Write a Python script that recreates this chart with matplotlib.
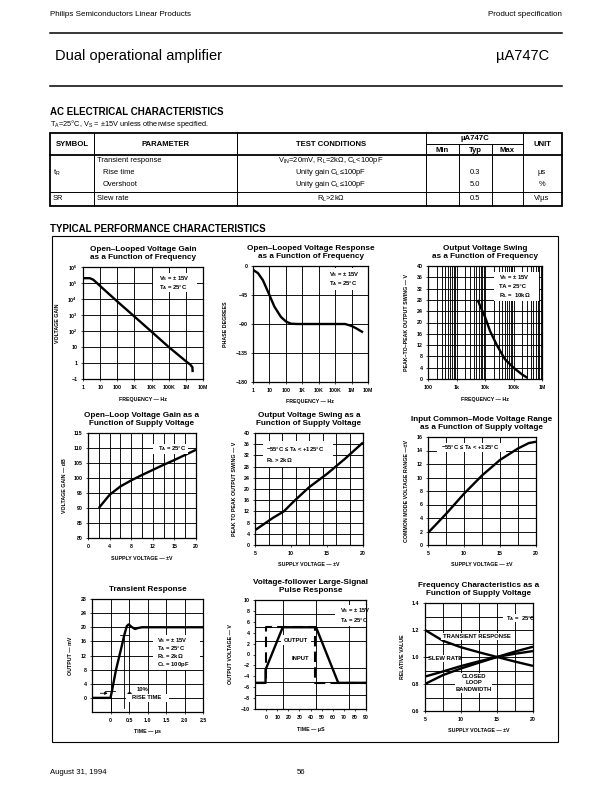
import matplotlib
matplotlib.use("Agg")
import matplotlib.pyplot as plt
from matplotlib.lines import Line2D
from matplotlib.patches import Rectangle
from matplotlib.ticker import FixedLocator, LogLocator, NullFormatter

plt.rcParams["font.family"] = ["Liberation Sans", "DejaVu Sans"]
plt.rcParams["mathtext.fontset"] = "custom"
plt.rcParams["mathtext.rm"] = "Liberation Sans"
plt.rcParams["mathtext.it"] = "Liberation Sans:italic"
plt.rcParams["mathtext.bf"] = "Liberation Sans:bold"
plt.rcParams["mathtext.default"] = "regular"

# ---- chart data ----
freq_ticks = [1, 10, 100, 1e3, 1e4, 1e5, 1e6, 1e7]
freq_labels = ["1", "10", "100", "1K", "10K", "100K", "1M", "10M"]

gain_freq_hz = [1, 2.5, 4, 10, 100, 1e3, 1e4, 1e5, 1e6, 1.8e6, 2.4e6, 2.5e6]
gain_vv = [2e5, 2e5, 1.6e5, 6.5e4, 7e3, 8e2, 90, 10, 1.3, 0.8, 0.55, 0.27]
gain_yticks = [0.1, 1, 10, 1e2, 1e3, 1e4, 1e5, 1e6]
gain_ylabels = ["\u22121", "1", "10", "10$^2$", "10$^3$", "10$^4$", "10$^5$", "10$^6$"]

phase_freq_hz = [1, 2, 4, 10, 20, 50, 100, 200, 500, 1e4, 1e5, 4e5, 1e6, 2e6, 5e6]
phase_deg = [-6, -11, -22, -45, -63, -79, -86, -89.5, -90, -90, -90, -90, -93, -97, -103]
phase_yticks = [0, -45, -90, -135, -180]

swing_freq_hz = [5.5e3, 7e3, 1e4, 1.5e4, 2.6e4, 5e4, 1e5, 2e5, 3.1e5]
swing_vpp = [28, 25.5, 22, 17, 12, 7, 4, 1.6, 0.4]
swing_xticks = [100, 1e3, 1e4, 1e5, 1e6]
swing_xlabels = ["100", "1k", "10k", "100k", "1M"]

gsup_volts = [2, 4, 6, 8, 10, 12, 14, 16, 18, 20]
gsup_db = [90, 94.4, 97.2, 99.2, 101, 102.7, 104.4, 106, 107.7, 109.4]
gsup_xticks = [0, 4, 8, 12, 16, 20]
gsup_xlabels = ["0", "4", "8", "12", "15", "20"]

ssup_volts = [5, 7.5, 9, 10.4, 12.5, 15, 17.5, 20]
ssup_vpp = [5.3, 9.7, 12, 15.6, 20.6, 25.4, 30.8, 36.6]
ssup_grid = [6.875, 8.75, 10.625, 12.5, 14.375, 16.25, 18.125]

cm_volts = [5, 7.5, 10, 12.5, 15, 17.5, 19, 20]
cm_range = [1.8, 4.6, 7.6, 10.3, 12.6, 14.3, 15.1, 15.3]

tr_time_us = [-0.5, 0.0, 0.04, 0.15, 0.3, 0.37, 0.44, 0.49, 0.57, 0.66, 0.75, 0.85, 2.5]
tr_out_mv = [0, 0, 2, 8, 14.5, 17.7, 20.3, 20.8, 20.1, 19.5, 19.8, 20, 20]
tr_xticks = [0, 0.5, 1.0, 1.5, 2.0, 2.5]
tr_xlabels = ["0", "0.5", "1.0", "1.5", "2.0", "2.5"]

pulse_in_t = [-10, -0.5, -0.5, 44.5, 44.5, 90]
pulse_in_v = [-5.2, -5.2, 5, 5, -5.2, -5.2]
pulse_out_t = [-10, -0.5, -0.5, 15, 45, 65, 90]
pulse_out_v = [-5.2, -5.2, -2.8, 5, 5, -5.2, -5.2]
pulse_xgrid = [0, 15, 30, 45, 60, 75]
pulse_ygrid = [-7.5, -5, -2.5, 0, 2.5, 5, 7.5]

fc_volts = [5, 7.5, 10, 12.5, 15, 17.5, 20]
fc_transient = [1.2, 1.12, 1.072, 1.035, 1.0, 0.966, 0.934]
fc_slew = [0.855, 0.893, 0.933, 0.968, 1.0, 1.024, 1.044]
fc_bandwidth = [0.8, 0.866, 0.915, 0.958, 1.0, 1.04, 1.076]

W, H = 612, 792
fig = plt.figure(figsize=(W / 100, H / 100), dpi=100)


def fx(x):
    return x / W


def fy(y):
    return 1 - y / H


def hline(x0, x1, y, lw=0.7):
    fig.add_artist(Line2D([fx(x0), fx(x1)], [fy(y), fy(y)], color="black", lw=lw))


def vline(x, y0, y1, lw=0.7):
    fig.add_artist(Line2D([fx(x), fx(x)], [fy(y0), fy(y1)], color="black", lw=lw))


def put(x, y, s, size=5.4, ha="left", weight="normal"):
    fig.text(fx(x), fy(y), s, fontsize=size, ha=ha, va="center", fontweight=weight)


# ---- page header ----
put(50, 14, "Philips Semiconductors Linear Products", size=5.8)
put(562, 14, "Product specification", size=5.8, ha="right")
hline(50, 562, 33, lw=1.1)
put(55, 56, "Dual operational amplifier", size=10.5)
put(549, 56, "\u00b5A747C", size=10.5, ha="right")
hline(50, 562, 86, lw=1.1)

# ---- AC table ----
put(50, 112, "AC ELECTRICAL CHARACTERISTICS", size=7, weight="bold")
put(50, 124, "T$_A$=25\u00b0C, V$_S$ = \u00b115V unless otherwise specified.", size=5.3)

cols = [50, 94, 237, 426, 459, 492, 523, 562]
t_top, t_mid, t_head, t_sep, t_bot = 133, 144, 155, 192, 206
fig.add_artist(Rectangle((fx(50), fy(t_bot)), fx(562) - fx(50), fy(t_top) - fy(t_bot),
                         fill=False, lw=1.3, edgecolor="black"))
hline(50, 562, t_head, lw=1.3)
hline(50, 562, t_sep, lw=0.7)
hline(cols[3], cols[6], t_mid, lw=0.7)
for i, c in enumerate(cols[1:-1], start=1):
    if i in (4, 5):
        vline(c, t_mid, t_bot)
    else:
        vline(c, t_top, t_bot)
HB = 5.6
put(72, 144, "SYMBOL", size=HB, ha="center", weight="bold")
put(165, 144, "PARAMETER", size=HB, ha="center", weight="bold")
put(331, 144, "TEST CONDITIONS", size=HB, ha="center", weight="bold")
put(475, 138, "\u00b5A747C", size=HB, ha="center", weight="bold")
put(442, 150, "Min", size=HB, ha="center", weight="bold")
put(475, 150, "Typ", size=HB, ha="center", weight="bold")
put(507, 150, "Max", size=HB, ha="center", weight="bold")
put(542, 144, "UNIT", size=HB, ha="center", weight="bold")

put(97, 161, "Transient response")
put(331, 161, "V$_{IN}$=20mV, R$_L$=2k\u03a9, C$_L$<100pF", ha="center")
put(53, 173, "t$_R$")
put(103, 173, "Rise time")
put(331, 173, "Unity gain C$_L$\u2264100pF", ha="center")
put(475, 173, "0.3", ha="center")
put(542, 173, "\u00b5s", ha="center")
put(103, 185, "Overshoot")
put(331, 185, "Unity gain C$_L$\u2264100pF", ha="center")
put(475, 185, "5.0", ha="center")
put(542, 185, "%", ha="center")
put(53, 199, "SR")
put(97, 199, "Slew rate")
put(331, 199, "R$_L$>2k\u03a9", ha="center")
put(475, 199, "0.5", ha="center")
put(542, 199, "V/\u00b5s", ha="center")

# ---- performance characteristics frame ----
put(50, 229, "TYPICAL PERFORMANCE CHARACTERISTICS", size=7, weight="bold")
fig.add_artist(Rectangle((fx(52), fy(742)), fx(558) - fx(52), fy(236) - fy(742),
                         fill=False, lw=0.8, edgecolor="black"))

TICK = 3.8


def chart(box, title, xlabel, ylabel):
    left, right, top, bottom = box
    ax = fig.add_axes([fx(left), fy(bottom), (right - left) / W, (bottom - top) / H])
    ax.set_axisbelow(True)
    for sp in ax.spines.values():
        sp.set_linewidth(0.9)
    ax.tick_params(which="major", length=1.5, width=0.5, labelsize=TICK, pad=2.5)
    ax.tick_params(which="minor", length=0)
    ax.grid(True, which="both", color="black", lw=0.65)
    ax.set_title(title, fontsize=5.9, fontweight="bold", pad=5.5, linespacing=1.2)
    ax.set_xlabel(xlabel, fontsize=TICK, fontweight="bold", labelpad=5)
    ax.set_ylabel(ylabel, fontsize=TICK, fontweight="bold", labelpad=5)
    return ax


def bold_ticks(ax):
    for lab in ax.get_xticklabels() + ax.get_yticklabels():
        lab.set_fontweight("bold")


def white_box(ax, x0, y0, x1, y1):
    ax.add_patch(Rectangle((x0, y0), x1 - x0, y1 - y0, transform=ax.transAxes,
                           facecolor="white", edgecolor="none", zorder=3))


def note(ax, x, y, s, ha="left", size=4.2):
    ax.text(x, y, s, transform=ax.transAxes, fontsize=size, ha=ha, va="center",
            fontweight="bold", zorder=4)


CURVE = dict(color="black", lw=1.7, solid_capstyle="butt")

# 1. open-loop gain vs frequency
ax = chart((83, 203, 267, 379), "Open\u2013Looped Voltage Gain\nas a Function of Frequency",
           "FREQUENCY \u2014 Hz", "VOLTAGE GAIN")
ax.set_xscale("log")
ax.set_yscale("log")
ax.plot(gain_freq_hz, gain_vv, **CURVE)
ax.set_xlim(1, 1e7)
ax.set_ylim(0.1, 1e6)
ax.xaxis.set_major_locator(FixedLocator(freq_ticks))
ax.set_xticklabels(freq_labels)
ax.xaxis.set_minor_locator(FixedLocator([]))
ax.yaxis.set_major_locator(FixedLocator(gain_yticks))
ax.set_yticklabels(gain_ylabels)
ax.yaxis.set_minor_locator(FixedLocator([]))
white_box(ax, 0.58, 0.78, 0.95, 0.95)
note(ax, 0.63, 0.9, "V$_S$ = \u00b1 15V")
note(ax, 0.63, 0.82, "T$_A$ = 25\u00b0C")
bold_ticks(ax)

# 2. open-loop phase vs frequency
ax = chart((253, 368, 266, 382), "Open\u2013Looped Voltage Response\nas a Function of Frequency",
           "FREQUENCY \u2014 Hz", "PHASE DEGREES")
ax.set_xscale("log")
ax.plot(phase_freq_hz, phase_deg, **CURVE)
ax.set_xlim(1, 1e7)
ax.set_ylim(-180, 0)
ax.xaxis.set_major_locator(FixedLocator(freq_ticks))
ax.set_xticklabels(freq_labels)
ax.xaxis.set_minor_locator(FixedLocator([]))
ax.set_yticks(phase_yticks)
ax.set_yticklabels([str(v).replace("-", "\u2212") for v in phase_yticks])
white_box(ax, 0.62, 0.79, 0.99, 0.985)
note(ax, 0.66, 0.925, "V$_S$ = \u00b1 15V")
note(ax, 0.66, 0.845, "T$_A$ = 25\u00b0C")
bold_ticks(ax)

# 3. output swing vs frequency
ax = chart((428, 542, 266, 379), "Output Voltage Swing\nas a Function of Frequency",
           "FREQUENCY \u2014 Hz", "PEAK\u2013TO\u2013PEAK OUTPUT SWING \u2014 V")
ax.set_xscale("log")
ax.plot(swing_freq_hz, swing_vpp, **CURVE)
ax.set_xlim(100, 1e6)
ax.set_ylim(0, 40)
ax.xaxis.set_major_locator(FixedLocator(swing_xticks))
ax.set_xticklabels(swing_xlabels)
ax.xaxis.set_minor_locator(LogLocator(base=10, subs=range(2, 10)))
ax.xaxis.set_minor_formatter(NullFormatter())
ax.set_yticks(range(0, 41, 4))
white_box(ax, 0.58, 0.69, 0.97, 0.95)
note(ax, 0.62, 0.895, "V$_S$ = \u00b1 15V")
note(ax, 0.62, 0.815, "TA = 25\u00b0C")
note(ax, 0.62, 0.735, "R$_L$ =  10k\u03a9")
bold_ticks(ax)

# 4. open-loop gain vs supply
ax = chart((88, 196, 433, 538), "Open\u2013Loop Voltage Gain as a\nFunction of Supply Voltage",
           "SUPPLY VOLTAGE \u2014 \u00b1V", "VOLTAGE GAIN \u2014 dB")
ax.plot(gsup_volts, gsup_db, **CURVE)
ax.set_xlim(0, 20)
ax.set_ylim(80, 115)
ax.set_xticks(gsup_xticks)
ax.set_xticklabels(gsup_xlabels)
ax.xaxis.set_minor_locator(FixedLocator(range(2, 20, 2)))
ax.set_yticks(range(80, 116, 5))
white_box(ax, 0.6, 0.8, 0.93, 0.9)
note(ax, 0.65, 0.85, "T$_A$ = 25\u00b0C")
bold_ticks(ax)

# 5. output swing vs supply
ax = chart((255, 363, 433, 545), "Output Voltage Swing as a\nFunction of Supply Voltage",
           "SUPPLY VOLTAGE \u2014 \u00b1V", "PEAK TO PEAK OUTPUT SWING \u2014 V")
ax.plot(ssup_volts, ssup_vpp, **CURVE)
ax.set_xlim(5, 20)
ax.set_ylim(0, 40)
ax.set_xticks([5, 10, 15, 20])
ax.xaxis.set_minor_locator(FixedLocator(ssup_grid))
ax.xaxis.grid(False, which="major")
ax.xaxis.grid(True, which="minor", color="black", lw=0.65)
ax.set_yticks(range(0, 41, 4))
white_box(ax, 0.07, 0.7, 0.72, 0.93)
note(ax, 0.1, 0.85, "\u221255\u00b0C \u2264 T$_A$ < +125\u00b0C")
note(ax, 0.1, 0.75, "R$_L$ > 2k\u03a9")
bold_ticks(ax)

# 6. common-mode range vs supply
ax = chart((428, 536, 437, 545), "Input Common\u2013Mode Voltage Range\nas a Function of Supply voltage",
           "SUPPLY VOLTAGE \u2014 \u00b1V", "COMMON MODE VOLTAGE RANGE \u2014\u00b1V")
ax.plot(cm_volts, cm_range, **CURVE)
ax.set_xlim(5, 20)
ax.set_ylim(0, 16)
ax.set_xticks([5, 10, 15, 20])
ax.xaxis.set_minor_locator(FixedLocator([7.5, 12.5, 17.5]))
ax.set_yticks(range(0, 17, 2))
white_box(ax, 0.08, 0.86, 0.72, 0.94)
note(ax, 0.12, 0.9, "\u221255\u00b0C \u2264 T$_A$ < +125\u00b0C")
bold_ticks(ax)

# 7. transient response
ax = chart((92, 203, 599, 712), "Transient Response", "TIME \u2014 \u00b5s", "OUTPUT \u2014 mV")
ax.plot(tr_time_us, tr_out_mv, **CURVE)
ax.set_xlim(-0.5, 2.5)
ax.set_ylim(-4, 28)
ax.xaxis.set_major_locator(FixedLocator(tr_xticks))
ax.set_xticklabels(tr_xlabels)
ax.set_yticks(range(0, 29, 4))
thin = dict(color="black", lw=0.6)
ax.plot([-0.15, 0.12], [2, 2], **thin)
ax.plot([0.25, 0.5], [17.7, 17.7], **thin)
ax.plot([0.0, 0.0], [2, -4], **thin)
ax.plot([0.37, 0.37], [17.7, -2.8], **thin)
ax.annotate("", xy=(0.0, 1.3), xytext=(-0.35, 1.3),
            arrowprops=dict(arrowstyle="-|>", lw=0.6, color="black", mutation_scale=4))
ax.annotate("", xy=(0.37, 1.3), xytext=(0.65, 1.3),
            arrowprops=dict(arrowstyle="-|>", lw=0.6, color="black", mutation_scale=4))
white_box(ax, 0.55, 0.37, 0.97, 0.68)
note(ax, 0.59, 0.63, "V$_S$ = \u00b1 15V")
note(ax, 0.59, 0.56, "T$_A$ = 25\u00b0C")
note(ax, 0.59, 0.49, "R$_L$ = 2k\u03a9")
note(ax, 0.59, 0.42, "C$_L$ = 100pF")
note(ax, 0.4, 0.2, "10%")
white_box(ax, 0.31, 0.09, 0.69, 0.16)
note(ax, 0.49, 0.125, "RISE TIME", ha="center")
bold_ticks(ax)

# 8. voltage follower pulse response
ax = chart((255, 366, 600, 709), "Voltage-follower Large-Signal\nPulse Response",
           "TIME \u2014 \u00b5S", "OUTPUT VOLTAGE \u2014 V")
ax.plot(pulse_in_t, pulse_in_v, color="black", lw=1.5, dashes=(5, 2.5))
ax.plot(pulse_out_t, pulse_out_v, **CURVE)
ax.set_xlim(-10, 90)
ax.set_ylim(-10, 10)
ax.set_yticks(range(-10, 11, 2))
ax.set_yticklabels([str(v).replace("-", "\u2212") for v in range(-10, 11, 2)])
ax.xaxis.set_major_locator(FixedLocator(range(0, 91, 10)))
ax.xaxis.set_minor_locator(FixedLocator(pulse_xgrid))
ax.yaxis.set_minor_locator(FixedLocator(pulse_ygrid))
ax.grid(False, which="major")
ax.grid(True, which="minor", color="black", lw=0.65)
white_box(ax, 0.72, 0.76, 1.0, 0.95)
note(ax, 0.77, 0.9, "V$_S$ = \u00b1 15V")
note(ax, 0.77, 0.81, "T$_A$ = 25\u00b0C")
white_box(ax, 0.23, 0.585, 0.5, 0.675)
note(ax, 0.365, 0.63, "OUTPUT", ha="center")
white_box(ax, 0.31, 0.415, 0.5, 0.505)
note(ax, 0.405, 0.46, "INPUT", ha="center")
bold_ticks(ax)

# 9. frequency characteristics vs supply
ax = chart((425, 533, 603, 711), "Frequency Characteristics as a\nFunction of Supply Voltage",
           "SUPPLY VOLTAGE \u2014 \u00b1V", "RELATIVE VALUE")
ax.plot(fc_volts, fc_transient, **CURVE)
ax.plot(fc_volts, fc_slew, **CURVE)
ax.plot(fc_volts, fc_bandwidth, **CURVE)
ax.set_xlim(5, 20)
ax.set_ylim(0.6, 1.4)
ax.set_xticks([5, 10, 15, 20])
ax.xaxis.set_minor_locator(FixedLocator([7.5, 12.5, 17.5]))
ax.set_yticks([0.6, 0.8, 1.0, 1.2, 1.4])
ax.set_yticklabels(["0.6", "0.8", "1.0", "1.2", "1.4"])
ax.yaxis.set_minor_locator(FixedLocator([0.7, 0.9, 1.1, 1.3]))
white_box(ax, 0.72, 0.82, 0.97, 0.9)
note(ax, 0.75, 0.86, "T$_A$ =  25\u00b0C")
white_box(ax, 0.15, 0.66, 0.82, 0.72)
note(ax, 0.48, 0.69, "TRANSIENT RESPONSE", ha="center")
white_box(ax, 0.05, 0.455, 0.32, 0.515)
note(ax, 0.185, 0.485, "SLEW RATE", ha="center")
white_box(ax, 0.28, 0.17, 0.62, 0.35)
note(ax, 0.45, 0.317, "CLOSED", ha="center")
note(ax, 0.45, 0.26, "LOOP", ha="center")
note(ax, 0.45, 0.2, "BANDWIDTH", ha="center")
bold_ticks(ax)

# ---- footer ----
put(50, 772, "August 31, 1994", size=5.6)
put(301, 772, "56", size=5.6, ha="center")

fig.savefig("out.png", dpi=100)
